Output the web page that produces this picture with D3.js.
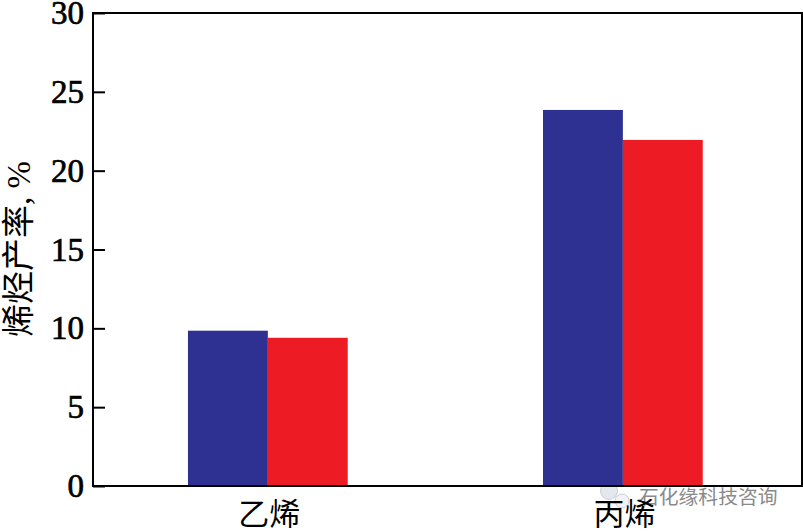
<!DOCTYPE html>
<html><head><meta charset="utf-8">
<script src="https://cdn.jsdelivr.net/npm/d3@7/dist/d3.min.js"></script>
<style>html,body{margin:0;padding:0;background:#fff}svg{display:block}</style>
</head><body><svg id="c" width="803" height="532"></svg>
<script>
const categories = ["乙烯", "丙烯"];
const seriesA = [9.85, 23.85];
const seriesB = [9.4, 21.95];
const yTicks = [0, 5, 10, 15, 20, 25, 30];
const yLabel = "烯烃产率, %";
const watermark = "石化缘科技咨询";
const colors = ["#2e3192", "#ed1c24"];

const svg = d3.select("#c");
const L = 93, R = 802, T = 13, B = 486;
const y = d3.scaleLinear().domain([0, 30]).range([B, T]);
const x = d3.scaleBand().domain(categories).range([L, R]).paddingInner(0.55).paddingOuter(0.2735).align(0.489);
const x1 = d3.scaleBand().domain([0, 1]).range([0, x.bandwidth()]);

// watermark sits beneath the axis labels
const wm = svg.append("g");
wm.append("circle").attr("cx", 609).attr("cy", 491).attr("r", 8.5).attr("fill", "#e4e7ee").attr("stroke", "#b8bcc4").attr("stroke-width", 0.7);
wm.append("circle").attr("cx", 622).attr("cy", 501).attr("r", 7).attr("fill", "#f1f2f5").attr("stroke", "#b8bcc4").attr("stroke-width", 0.7);
wm.append("text").attr("x", 639).attr("y", 504).attr("font-family", "'Noto Sans CJK SC'")
  .attr("font-size", 19.8).attr("fill", "#8a8a8a").text(watermark);

[seriesA, seriesB].forEach((vals, s) => {
  svg.append("g").selectAll("rect").data(vals).join("rect")
    .attr("x", (d, i) => x(categories[i]) + x1(s))
    .attr("width", x1.bandwidth())
    .attr("y", d => y(d))
    .attr("height", d => B - y(d))
    .attr("fill", colors[s]);
});

// frame
svg.append("rect").attr("x", L).attr("y", T).attr("width", R - L).attr("height", B - T)
  .attr("fill", "none").attr("stroke", "#000").attr("stroke-width", 2);

// y axis
const ay = svg.append("g").attr("transform", `translate(${L},0)`)
  .call(d3.axisLeft(y).tickValues(yTicks).tickSize(0).tickPadding(9));
ay.select(".domain").remove();
ay.selectAll("text").attr("font-family", "'Liberation Serif'").attr("font-size", 33)
  .attr("fill", "#000").attr("stroke", "#000").attr("stroke-width", 0.7);
ay.selectAll("line").attr("x1", 0).attr("x2", 12).attr("stroke", "#000").attr("stroke-width", 2);

// x labels
const ax = svg.append("g").attr("transform", `translate(1.5,${B})`)
  .call(d3.axisBottom(x).tickSize(0).tickPadding(17));
ax.select(".domain").remove();
ax.selectAll("text").attr("font-family", "'Noto Sans CJK SC'").attr("font-size", 31).attr("fill", "#000");

// y title
svg.append("text").attr("transform", "translate(30,249) rotate(-90)")
  .attr("text-anchor", "middle").attr("font-family", "'Liberation Serif','Noto Sans CJK SC'")
  .attr("font-size", 33).attr("fill", "#000").text(yLabel);
</script></body></html>
